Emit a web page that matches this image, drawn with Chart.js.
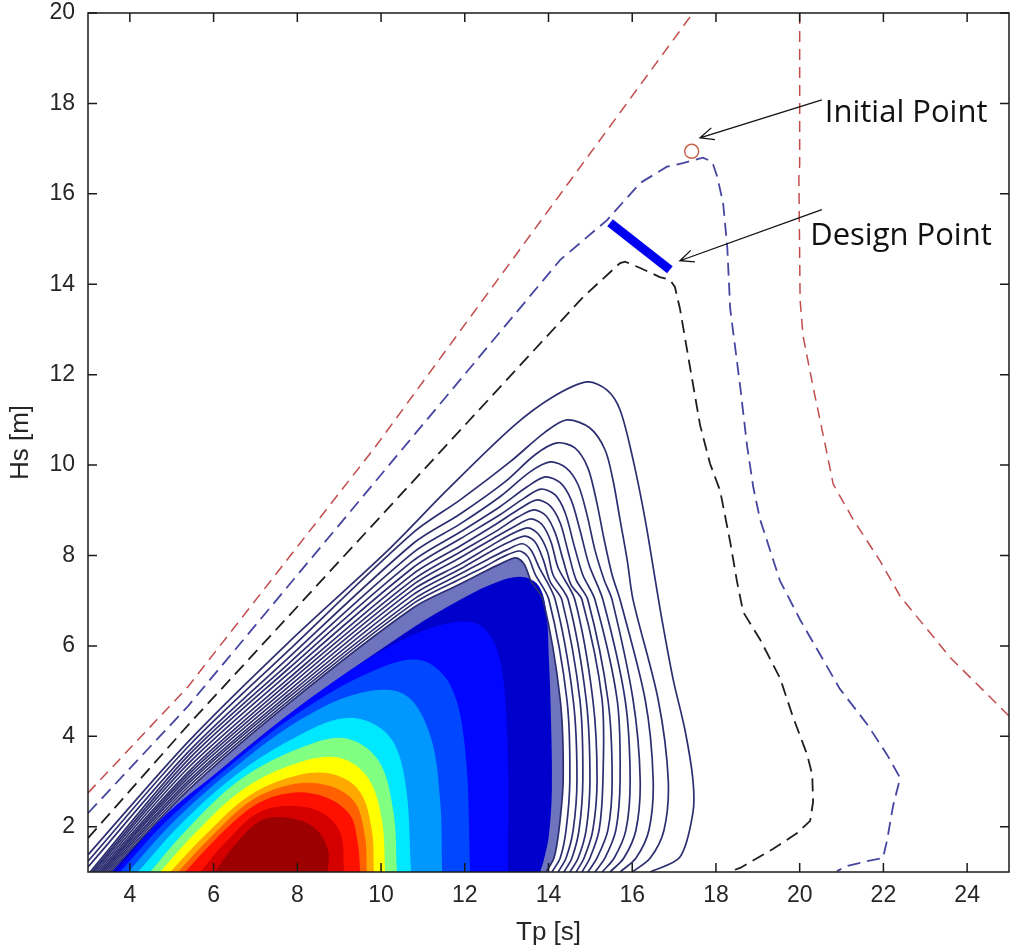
<!DOCTYPE html>
<html>
<head>
<meta charset="utf-8">
<script src="https://cdn.jsdelivr.net/npm/chart.js@4.4.1/dist/chart.umd.min.js"></script>
<style>html,body{margin:0;padding:0;background:#fff;}canvas{display:block;}</style>
</head>
<body>
<canvas id="c" width="1021" height="952"></canvas>
<script>
// ---------- axis ticks ----------
const xTickValues = [4,6,8,10,12,14,16,18,20,22,24];
const yTickValues = [2,4,6,8,10,12,14,16,18,20];

// ---------- solid density contours (Tp [s], Hs [m]) ----------
const contour1  = [[3.00,1.38],[5.39,3.88],[7.78,6.07],[10.17,8.12],[11.58,9.45],[13.15,10.85],[14.11,11.51],[14.92,11.84],[15.40,11.66],[15.71,11.22],[16.02,10.12],[16.31,8.79],[16.55,7.46],[16.71,6.58],[16.98,5.25],[17.26,4.14],[17.45,3.04],[17.45,2.31],[17.14,1.33],[16.43,1.00]];
const contour2  = [[3.00,1.24],[5.39,3.77],[7.78,5.89],[10.76,8.50],[11.89,9.23],[13.08,10.07],[13.92,10.73],[14.44,11.00],[14.99,10.82],[15.35,10.34],[15.54,9.67],[15.71,8.79],[15.88,7.90],[16.02,7.02],[16.62,4.81],[16.86,3.04],[16.76,1.93],[16.43,1.31],[16.00,1.00]];
const contour3  = [[3.00,1.11],[5.39,3.65],[7.78,5.73],[10.76,8.26],[11.89,8.92],[12.96,9.63],[13.68,10.23],[14.20,10.49],[14.63,10.38],[14.94,9.94],[15.14,9.23],[15.33,8.35],[15.52,7.57],[15.71,7.02],[16.31,4.81],[16.50,3.04],[16.40,1.93],[16.09,1.31],[15.71,1.00]];
const contour4  = [[3.05,1.00],[5.39,3.57],[7.78,5.60],[10.76,8.06],[11.89,8.70],[12.84,9.30],[13.56,9.85],[14.04,10.07],[14.42,9.94],[14.71,9.56],[14.92,8.90],[15.11,8.12],[15.33,7.46],[15.52,7.02],[16.02,4.81],[16.19,3.04],[16.09,1.93],[15.80,1.31],[15.47,1.00]];
const contour5  = [[3.10,1.00],[5.39,3.48],[7.78,5.49],[10.76,7.88],[11.89,8.52],[12.84,9.08],[13.49,9.52],[13.92,9.74],[14.28,9.61],[14.54,9.23],[14.75,8.57],[14.97,7.79],[15.30,7.02],[15.83,4.81],[15.95,3.04],[15.85,1.93],[15.57,1.31],[15.28,1.00]];
const contour6  = [[3.14,1.00],[5.39,3.39],[7.78,5.38],[10.76,7.73],[11.89,8.37],[12.84,8.90],[13.42,9.27],[13.82,9.47],[14.16,9.34],[14.40,8.94],[14.61,8.23],[14.82,7.57],[15.11,7.02],[15.64,4.81],[15.71,3.04],[15.61,1.93],[15.35,1.31],[15.11,1.00]];
const contour7  = [[3.19,1.00],[5.39,3.30],[7.78,5.27],[10.76,7.59],[11.89,8.21],[12.79,8.72],[13.34,9.05],[13.73,9.23],[14.04,9.10],[14.28,8.72],[14.47,8.08],[14.66,7.46],[14.94,7.02],[15.42,4.81],[15.52,3.04],[15.42,1.93],[15.16,1.31],[14.94,1.00]];
const contour8  = [[3.24,1.00],[5.39,3.21],[7.78,5.18],[10.76,7.46],[11.89,8.08],[12.75,8.54],[13.27,8.85],[13.65,9.01],[13.94,8.88],[14.16,8.50],[14.35,7.90],[14.54,7.35],[14.80,7.02],[15.28,4.81],[15.30,3.04],[15.21,1.93],[14.99,1.31],[14.80,1.00]];
const contour9  = [[3.29,1.00],[5.39,3.15],[7.78,5.09],[10.76,7.35],[11.89,7.95],[12.70,8.39],[13.20,8.65],[13.58,8.81],[13.85,8.68],[14.06,8.30],[14.23,7.73],[14.63,7.02],[15.06,4.81],[15.16,3.04],[15.06,1.93],[14.85,1.31],[14.66,1.00]];
const contour10 = [[3.33,1.00],[5.39,3.08],[7.78,5.00],[10.76,7.24],[11.89,7.81],[12.65,8.23],[13.13,8.48],[13.51,8.61],[13.75,8.48],[13.97,8.10],[14.11,7.57],[14.47,7.02],[14.90,4.81],[14.99,3.04],[14.90,1.93],[14.71,1.31],[14.51,1.00]];
const contour11 = [[3.38,1.00],[5.39,3.01],[7.78,4.92],[10.76,7.13],[11.89,7.70],[12.60,8.08],[13.06,8.30],[13.44,8.43],[13.68,8.30],[13.87,7.92],[14.04,7.42],[14.32,7.02],[14.75,4.81],[14.82,3.04],[14.73,1.93],[14.56,1.31],[14.37,1.00]];
const contour12 = [[3.43,1.00],[5.39,2.95],[7.78,4.85],[10.76,7.02],[11.89,7.59],[12.56,7.92],[12.99,8.12],[13.37,8.26],[13.58,8.12],[13.77,7.75],[14.16,7.02],[14.59,4.81],[14.68,3.04],[14.59,1.93],[14.42,1.31],[14.23,1.00]];
const contour13 = [[3.48,1.00],[5.39,2.88],[7.78,4.78],[10.76,6.93],[11.89,7.48],[12.51,7.77],[12.91,7.97],[13.30,8.10],[13.51,7.97],[13.68,7.59],[14.01,7.02],[14.44,4.81],[14.51,3.04],[14.42,1.93],[14.28,1.31],[14.08,1.00]];
const contour14 = [[3.53,1.00],[5.39,2.81],[7.78,4.72],[10.76,6.84],[11.89,7.37],[12.46,7.64],[12.84,7.81],[13.22,7.95],[13.42,7.81],[13.58,7.44],[13.87,7.02],[14.28,4.81],[14.35,3.04],[14.25,1.93],[14.13,1.31],[13.94,1.00]];

// ---------- filled density levels, outer (low) to inner (high) ----------
const levelDeepBlue  = [[3.57,1.00],[4.48,1.93],[5.39,2.66],[7.78,4.47],[10.76,6.40],[11.89,7.02],[12.60,7.35],[13.32,7.53],[13.75,7.35],[13.94,6.80],[14.01,5.69],[14.06,4.36],[14.08,2.81],[14.01,1.82],[13.89,1.27],[13.80,1.00]];
const levelBlue      = [[3.67,1.00],[4.72,2.15],[6.34,3.39],[8.06,4.67],[9.98,5.87],[11.41,6.46],[12.36,6.46],[12.84,5.69],[13.03,3.48],[13.03,1.00]];
const levelMidBlue   = [[3.76,1.00],[4.86,2.11],[6.39,3.35],[8.06,4.54],[9.74,5.42],[10.93,5.69],[11.65,5.14],[12.01,3.70],[12.13,1.00]];
const levelLightBlue = [[3.96,1.00],[5.01,2.08],[6.44,3.26],[8.06,4.36],[9.50,4.96],[10.57,4.92],[11.17,4.03],[11.41,2.59],[11.46,1.00]];
const levelCyan      = [[4.19,1.00],[5.20,2.04],[6.54,3.15],[8.06,4.03],[9.26,4.41],[10.17,4.03],[10.57,3.04],[10.72,1.00]];
const levelGreen     = [[4.48,1.00],[5.39,1.97],[6.63,3.04],[8.06,3.74],[9.14,3.96],[9.93,3.48],[10.29,2.37],[10.38,1.00]];
const levelYellow    = [[4.72,1.00],[5.58,1.88],[6.75,2.86],[8.06,3.43],[9.02,3.52],[9.69,3.08],[10.02,2.15],[10.10,1.00]];
const levelOrange    = [[4.96,1.00],[5.80,1.82],[6.87,2.70],[8.06,3.15],[8.90,3.15],[9.50,2.77],[9.78,1.93],[9.83,1.00]];
const levelOrangeRed = [[5.15,1.00],[5.91,1.75],[6.92,2.59],[7.95,2.95],[8.78,2.90],[9.38,2.53],[9.62,1.75],[9.66,1.00]];
const levelRed       = [[5.32,1.00],[6.03,1.71],[6.99,2.48],[7.83,2.75],[8.66,2.66],[9.26,2.26],[9.45,1.60],[9.50,1.00]];
const levelRed2      = [[5.68,1.00],[6.27,1.64],[7.06,2.31],[7.83,2.46],[8.54,2.33],[9.02,1.88],[9.12,1.00]];
const levelDarkRed   = [[6.03,1.00],[6.51,1.60],[7.16,2.15],[7.83,2.19],[8.42,1.97],[8.73,1.49],[8.73,1.00]];

// ---------- dashed environmental contours ----------
const redContourLeft  = [[3.00,2.75],[5.39,5.10],[9.86,10.40],[17.45,20.00]];
const redContourRight = [[20.00,20.00],[20.00,16.64],[19.98,16.42],[20.01,13.65],[20.08,12.86],[20.32,11.73],[20.65,10.27],[20.80,9.58],[21.27,8.81],[21.92,7.88],[22.40,7.10],[23.59,5.75],[25.00,4.45]];
const blueContour  = [[3.00,2.30],[5.39,4.67],[14.28,14.54],[15.40,15.42],[16.19,16.24],[16.83,16.60],[17.21,16.68],[17.69,16.80],[17.91,16.71],[18.03,16.38],[18.17,15.80],[18.27,14.83],[18.34,13.46],[18.58,11.73],[18.74,10.45],[18.89,9.52],[19.05,8.81],[19.53,7.44],[20.01,6.58],[20.96,5.05],[21.61,4.27],[22.09,3.59],[22.40,3.08],[22.23,2.46],[22.09,1.71],[21.99,1.31],[21.61,1.24],[21.13,1.13],[20.89,1.02]];
const blackContour = [[3.00,1.75],[5.39,4.25],[14.83,13.72],[15.71,14.47],[15.83,14.50],[16.19,14.36],[16.66,14.16],[16.90,14.10],[17.02,13.94],[17.14,13.46],[17.38,12.17],[17.62,10.89],[17.86,10.03],[18.10,9.43],[18.34,8.30],[18.50,7.44],[18.65,6.75],[19.05,6.15],[19.53,5.29],[19.84,4.43],[20.18,3.59],[20.30,3.15],[20.32,2.55],[20.25,2.13],[19.94,1.86],[19.36,1.51],[18.58,1.09],[18.29,1.00]];

// ---------- marked points ----------
const initialPoint = [[17.42,16.94]];
const designPoint  = [[15.47,15.36],[16.90,14.32]];

// ---------- annotation texts ----------
const annotationTexts = ['Initial Point','Design Point'];
const annotationCfg = [
  {text: 0, at: [20.60,17.59], from: [20.53,18.08], to: [17.62,17.24]},
  {text: 1, at: [20.25,14.87], from: [20.53,15.65], to: [17.14,14.52]}
];

const toXY = arr => arr.map(p => ({x: p[0], y: p[1]}));

const contours = [contour1,contour2,contour3,contour4,contour5,contour6,contour7,contour8,contour9,contour10,contour11,contour12,contour13,contour14];
const levels = [levelDeepBlue,levelBlue,levelMidBlue,levelLightBlue,levelCyan,levelGreen,levelYellow,levelOrange,levelOrangeRed,levelRed,levelRed2,levelDarkRed];
const levelColors = ['#0000cc','#0006ff','#0048ff','#0098ff','#00e8ff','#80ff80','#ffff00','#ffa800','#ff6000','#ff1000','#d40000','#9c0000'];

const datasets = [];
// dense contour band underneath the coloured core
datasets.push({data: toXY(contour14), fill: 'shape', backgroundColor: 'rgb(110,116,190)', borderWidth: 0, pointRadius: 0, tension: 0.3, order: 300});
levels.forEach((lv, i) => datasets.push({data: toXY(lv), fill: 'shape', backgroundColor: levelColors[i], borderWidth: 0, pointRadius: 0, tension: 0.35, order: 200 - i}));
contours.forEach(c => datasets.push({data: toXY(c), borderColor: '#2c2e70', borderWidth: 1.7, pointRadius: 0, tension: 0.3, fill: false, order: 50}));
const dashed = (d, color, w, dash) => ({data: toXY(d), borderColor: color, borderWidth: w, borderDash: dash, pointRadius: 0, tension: 0, fill: false, order: 20});
datasets.push(dashed(redContourLeft, '#c24c4c', 1.5, [11,7]));
datasets.push(dashed(redContourRight, '#c24c4c', 1.5, [11,7]));
datasets.push(dashed(blueContour, '#4646a0', 1.8, [13,7]));
datasets.push(dashed(blackContour, '#1e1e1e', 1.8, [13,7]));
datasets.push({data: toXY(designPoint), borderColor: '#0000f0', borderWidth: 9, borderCapStyle: 'butt', pointRadius: 0, fill: false, order: 10});
datasets.push({data: toXY(initialPoint), showLine: false, pointRadius: 7, pointStyle: 'circle', pointBorderColor: '#c8644c', pointBackgroundColor: 'rgba(0,0,0,0)', pointBorderWidth: 1.5, order: 5});

const tickFont  = {family: "'Liberation Sans', Arial, sans-serif", size: 23};
const titleFont = {family: "'Liberation Sans', Arial, sans-serif", size: 26};

const boxPlugin = {
  id: 'boxAndNotes',
  afterDatasetsDraw(chart) {
    const {ctx, chartArea: a, scales: {x, y}} = chart;
    ctx.save();
    ctx.strokeStyle = '#1a1a1a';
    ctx.lineWidth = 1.5;
    ctx.strokeRect(a.left, a.top, a.right - a.left, a.bottom - a.top);
    ctx.beginPath();
    const tl = 9;
    x.ticks.forEach(t => {
      const px = x.getPixelForValue(t.value);
      ctx.moveTo(px, a.bottom); ctx.lineTo(px, a.bottom - tl);
      ctx.moveTo(px, a.top); ctx.lineTo(px, a.top + tl);
    });
    y.ticks.forEach(t => {
      const py = y.getPixelForValue(t.value);
      ctx.moveTo(a.left, py); ctx.lineTo(a.left + tl, py);
      ctx.moveTo(a.right, py); ctx.lineTo(a.right - tl, py);
    });
    ctx.stroke();
    // annotations
    ctx.strokeStyle = '#111';
    ctx.fillStyle = '#111';
    ctx.lineWidth = 1.3;
    ctx.font = "31px 'Open Sans', sans-serif";
    ctx.textBaseline = 'alphabetic';
    ctx.textAlign = 'left';
    annotationCfg.forEach(an => {
      const fx = x.getPixelForValue(an.from[0]), fy = y.getPixelForValue(an.from[1]);
      const tx = x.getPixelForValue(an.to[0]), ty = y.getPixelForValue(an.to[1]);
      ctx.beginPath();
      ctx.moveTo(fx, fy); ctx.lineTo(tx, ty);
      const ang = Math.atan2(fy - ty, fx - tx);
      const hl = 15, ha = 0.42;
      ctx.moveTo(tx + hl * Math.cos(ang + ha), ty + hl * Math.sin(ang + ha));
      ctx.lineTo(tx, ty);
      ctx.lineTo(tx + hl * Math.cos(ang - ha), ty + hl * Math.sin(ang - ha));
      ctx.stroke();
      ctx.fillText(annotationTexts[an.text], x.getPixelForValue(an.at[0]), y.getPixelForValue(an.at[1]));
    });
    ctx.restore();
  }
};

new Chart(document.getElementById('c'), {
  type: 'line',
  data: {datasets},
  options: {
    responsive: false,
    animation: false,
    events: [],
    layout: {padding: {top: 0, right: 12, left: 0, bottom: 0}},
    plugins: {legend: {display: false}, tooltip: {enabled: false}},
    scales: {
      x: {
        type: 'linear', min: 3, max: 25,
        afterBuildTicks: s => { s.ticks = xTickValues.map(v => ({value: v})); },
        afterFit: s => { s.height = 80; },
        grid: {display: false, drawTicks: false},
        border: {display: false},
        ticks: {font: tickFont, color: '#262626', padding: 10, maxRotation: 0, autoSkip: false},
        title: {display: true, text: 'Tp [s]', font: titleFont, color: '#262626', padding: {top: 0, bottom: 4}}
      },
      y: {
        type: 'linear', min: 1, max: 20,
        afterBuildTicks: s => { s.ticks = yTickValues.map(v => ({value: v})); },
        afterFit: s => { s.width = 88; s.paddingTop = 13; s.paddingBottom = 0; },
        grid: {display: false, drawTicks: false},
        border: {display: false},
        ticks: {font: tickFont, color: '#262626', padding: 13, autoSkip: false},
        title: {display: true, text: 'Hs [m]', font: titleFont, color: '#262626', padding: {top: 5, bottom: 0}}
      }
    }
  },
  plugins: [boxPlugin]
});
</script>
</body>
</html>
